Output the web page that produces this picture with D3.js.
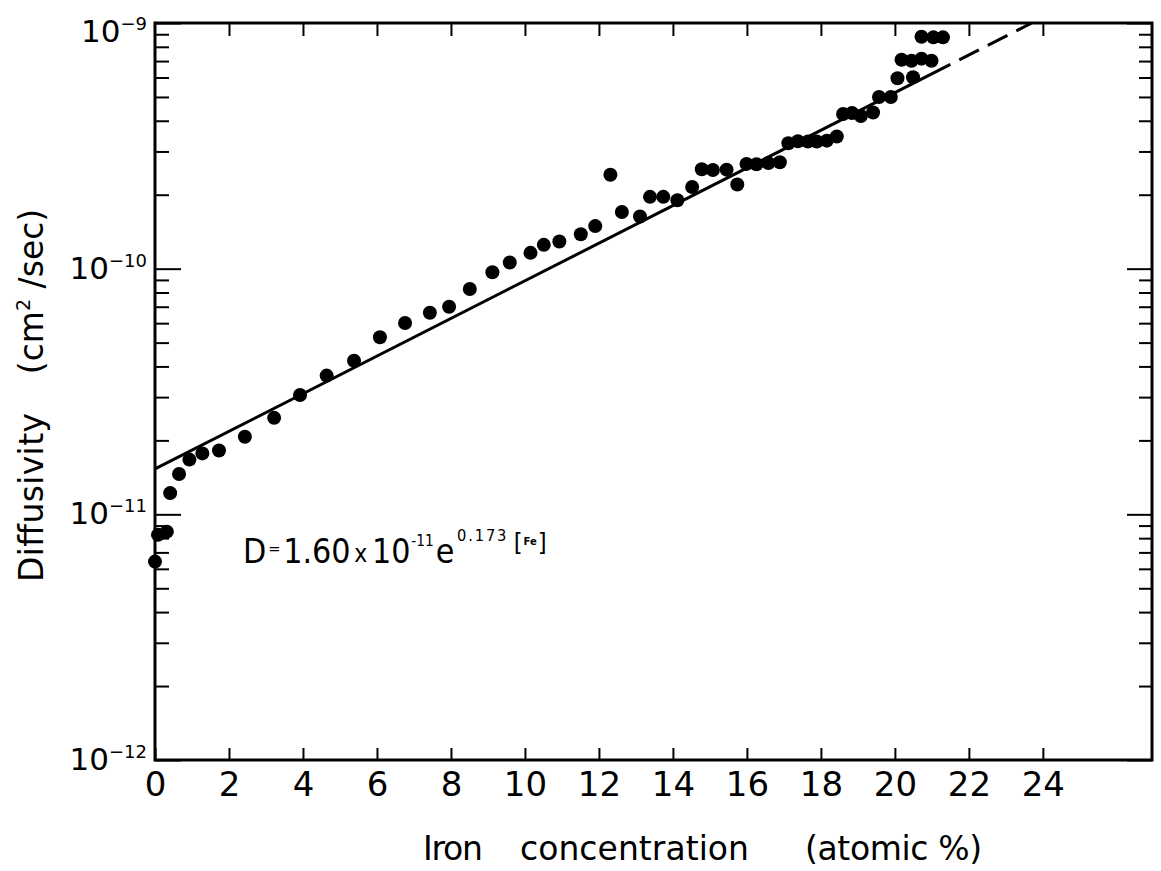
<!DOCTYPE html>
<html>
<head>
<meta charset="utf-8">
<script src="https://cdn.jsdelivr.net/npm/d3@7"></script>
<style>
  html, body { margin: 0; padding: 0; background: #fff; }
  svg { display: block; }
  text { font-family: "DejaVu Sans", sans-serif; fill: #000; }
</style>
</head>
<body>
<svg id="chart" width="1161" height="871"></svg>
<script>
// ---- data ----
const ironPct = [0, 0.08, 0.32, 0.41, 0.65, 0.93, 1.28, 1.73, 2.43, 3.22, 3.92, 4.64, 5.38, 6.08, 6.76, 7.43, 7.95, 8.51, 9.12, 9.59,
  10.15, 10.51, 10.93, 11.51, 11.9, 12.31, 12.62, 13.11, 13.38, 13.74, 14.12, 14.52, 14.78, 15.08, 15.45, 15.74, 15.99, 16.26, 16.58, 16.89,
  17.12, 17.38, 17.65, 17.89, 18.16, 18.43, 18.6, 18.84, 19.08, 19.41, 19.57, 19.89, 20.07, 20.49, 20.18, 20.45, 20.72, 20.99, 20.72, 21.04, 21.3];
const diffusivity = [6.42e-12, 8.25e-12, 8.5e-12, 1.22e-11, 1.46e-11, 1.67e-11, 1.77e-11, 1.82e-11, 2.07e-11, 2.47e-11, 3.06e-11, 3.67e-11, 4.22e-11, 5.26e-11, 6.01e-11, 6.62e-11, 7.0e-11, 8.27e-11, 9.67e-11, 1.06e-10,
  1.16e-10, 1.25e-10, 1.29e-10, 1.38e-10, 1.49e-10, 2.41e-10, 1.70e-10, 1.63e-10, 1.96e-10, 1.96e-10, 1.90e-10, 2.15e-10, 2.54e-10, 2.52e-10, 2.53e-10, 2.20e-10, 2.67e-10, 2.66e-10, 2.69e-10, 2.71e-10,
  3.24e-10, 3.30e-10, 3.29e-10, 3.29e-10, 3.32e-10, 3.45e-10, 4.26e-10, 4.30e-10, 4.18e-10, 4.32e-10, 5.0e-10, 5.0e-10, 5.96e-10, 6.01e-10, 7.09e-10, 7.02e-10, 7.16e-10, 7.02e-10, 8.79e-10, 8.74e-10, 8.74e-10];

// fitted line as drawn (solid to the 2nd point, dashed to the 3rd)
const fitX = [0, 21.5, 23.7];
const fitD = [1.53e-11, 6.78e-10, 1.0e-9];

const xTickValues = [0, 2, 4, 6, 8, 10, 12, 14, 16, 18, 20, 22, 24];
const xTickLabels = ["0", "2", "4", "6", "8", "10", "12", "14", "16", "18", "20", "22", "24"];
const yDecades = [1e-12, 1e-11, 1e-10, 1e-9];
const yDecadeExponents = ["−12", "−11", "−10", "−9"];
const xTitleParts = ["Iron", "concentration", "(atomic %)"];
const yTitleParts = ["Diffusivity", "(cm", "2", " /sec)"];
const eqParts = ["D", "=", "1.60", "x", "10", "-11", "e", "0.173", "[", "Fe", "]"];

// ---- layout ----
const L = 155, R = 1152, T = 23, B = 760;
const svg = d3.select("#chart");

const x = d3.scaleLinear().domain([0, 26.95]).range([L, R]);
const y = d3.scaleLog().domain([1e-12, 1e-9]).range([B, T]);

// minor + major y tick values
const yTicksAll = [];
for (let e = -12; e < -9; e++) {
  for (let m = 1; m < 10; m++) yTicksAll.push(m * Math.pow(10, e));
}
yTicksAll.push(1e-9);
const isMajor = v => yDecades.some(d => Math.abs(v / d - 1) < 1e-6);

// bottom axis (ticks inward) with labels
const gB = svg.append("g").attr("transform", `translate(0,${B})`)
  .call(d3.axisBottom(x).tickValues(xTickValues).tickSizeInner(-12).tickSizeOuter(0).tickPadding(12)
    .tickFormat((d, i) => xTickLabels[i]));
gB.select(".domain").remove();
gB.selectAll("line").attr("stroke", "#000").attr("stroke-width", 2);
gB.selectAll("text").style("font-family", "DejaVu Sans, sans-serif").style("font-size", "34px").attr("fill", "#000");

// top axis ticks
const gT = svg.append("g").attr("transform", `translate(0,${T})`)
  .call(d3.axisTop(x).tickValues(xTickValues.filter(v => v > 0)).tickSizeInner(-13).tickSizeOuter(0).tickFormat(""));
gT.select(".domain").remove();
gT.selectAll("line").attr("stroke", "#000").attr("stroke-width", 2);

// left axis ticks
const gLft = svg.append("g").attr("transform", `translate(${L},0)`)
  .call(d3.axisLeft(y).tickValues(yTicksAll).tickSizeOuter(0).tickFormat(""));
gLft.select(".domain").remove();
gLft.selectAll(".tick line").attr("x2", d => isMajor(d) ? 26 : 14).attr("stroke", "#000").attr("stroke-width", 2);

// right axis ticks
const gRt = svg.append("g").attr("transform", `translate(${R},0)`)
  .call(d3.axisRight(y).tickValues(yTicksAll).tickSizeOuter(0).tickFormat(""));
gRt.select(".domain").remove();
gRt.selectAll(".tick line").attr("x2", d => isMajor(d) ? -25 : -13).attr("stroke", "#000").attr("stroke-width", 2);

// y decade labels: 10^n
const yLab = svg.append("g");
yDecades.forEach((d, i) => {
  const base = y(d) + (i === yDecades.length - 1 ? 19 : 10);
  const t = yLab.append("text").attr("x", 147).attr("y", base).attr("text-anchor", "end")
    .style("font-size", "31px");
  t.append("tspan").text("10");
  t.append("tspan").attr("dy", -12).style("font-size", "18px").text(yDecadeExponents[i]);
});

// frame
svg.append("rect").attr("x", L).attr("y", T).attr("width", R - L).attr("height", B - T)
  .attr("fill", "none").attr("stroke", "#000").attr("stroke-width", 3);

// fitted line
const lineGen = d3.line().x(d => x(d[0])).y(d => y(d[1]));
const fitPts = fitX.map((v, i) => [v, fitD[i]]);
svg.append("path").attr("d", lineGen(fitPts.slice(0, 2)))
  .attr("fill", "none").attr("stroke", "#000").attr("stroke-width", 3);
svg.append("path").attr("d", lineGen(fitPts.slice(1, 3)))
  .attr("fill", "none").attr("stroke", "#000").attr("stroke-width", 3)
  .attr("stroke-dasharray", "22 10").attr("stroke-dashoffset", 22);

// data points
svg.append("g").selectAll("circle")
  .data(ironPct.map((v, i) => [v, diffusivity[i]]))
  .join("circle")
  .attr("cx", d => x(d[0])).attr("cy", d => y(d[1])).attr("r", 7).attr("fill", "#000");

// equation: one text element, D = 1.60 x 10^-11 e^(0.173 [Fe]); scaled to the reference width
// [dx, dy, font size, bold, letter spacing]
const eqStyle = [
  [0, 0, 33, false, 0],
  [2, -9, 16, false, 0],
  [3, 9, 33, false, 0],
  [4, -1, 24, false, 0],
  [5, 1, 33, false, 0],
  [1, -17, 15, false, 0],
  [2, 17, 33, false, 0],
  [3, -22, 16, false, 2],
  [6, 10, 25, false, 0],
  [1, -6, 11, true, 0],
  [1, 6, 25, false, 0]
];
const eqX = 243, eqY = 563, eqW = 304;
const eq = svg.append("text").attr("x", eqX).attr("y", eqY);
eqParts.forEach((s, i) => {
  const [dx, dy, fs, bold, ls] = eqStyle[i];
  eq.append("tspan").attr("dx", dx).attr("dy", dy).style("font-size", fs + "px")
    .style("font-weight", bold ? "bold" : "normal").style("letter-spacing", ls + "px").text(s);
});
const eqNatural = eq.node().getBBox().width;
const sx = eqW / eqNatural;
eq.attr("transform", `translate(${eqX},0) scale(${sx},1) translate(${-eqX},0)`);

// x title
const xTitlePos = [[423, 60], [520, 229], [805, 177]];
xTitleParts.forEach((s, i) => {
  svg.append("text").attr("x", xTitlePos[i][0]).attr("y", 860).style("font-size", "33px")
    .attr("textLength", xTitlePos[i][1]).attr("lengthAdjust", "spacing").text(s);
});

// y title (rotated)
svg.append("text").attr("transform", "translate(43,497.5) rotate(-90)").attr("text-anchor", "middle")
  .style("font-size", "33px").attr("textLength", 169).attr("lengthAdjust", "spacing").text(yTitleParts[0]);
const yt2 = svg.append("text").attr("transform", "translate(43,291.5) rotate(-90)").attr("text-anchor", "middle")
  .style("font-size", "33px");
yt2.append("tspan").text(yTitleParts[1]);
yt2.append("tspan").attr("dy", -13).style("font-size", "19px").text(yTitleParts[2]);
yt2.append("tspan").attr("dy", 13).text(yTitleParts[3]);
</script>
</body>
</html>
